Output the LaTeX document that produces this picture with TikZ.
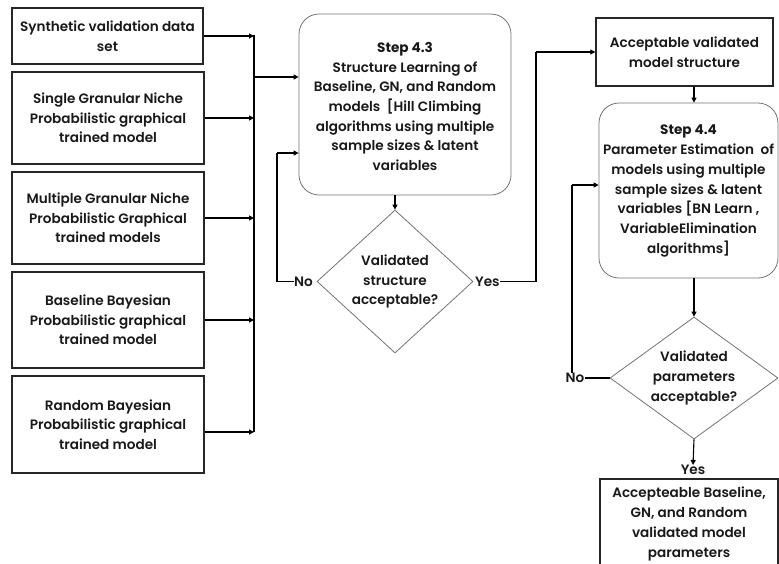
\documentclass[tikz,border=0pt]{standalone}
\usepackage{fontspec}
\setmainfont{Poppins}[UprightFont=* SemiBold, BoldFont=* Bold]
\usetikzlibrary{arrows.meta,shapes.geometric}

\tikzset{
  every node/.style={font=\fontsize{13.6}{19.7}\selectfont, inner sep=0pt, text=black!90},
  inbox/.style={draw=black!85, line width=1.4pt, rectangle, align=center},
  stepbox/.style={draw=black!55, line width=0.8pt, rectangle, rounded corners=20pt},
  decision/.style={draw=black!55, line width=0.8pt, diamond},
  plain/.style={align=center},
  link/.style={draw=black, line width=1.1pt},
  arr/.style={link, -{Triangle[length=5pt,width=5pt]}},
}

\begin{document}
\begin{tikzpicture}[x=1pt,y=-1pt]
\useasboundingbox (0,0) rectangle (779,563);

% input data and trained models
\node[inbox, minimum width=191pt, minimum height=56pt] (b1) at (107.5,36) {Synthetic validation data\\set};
\node[inbox, minimum width=192pt, minimum height=92pt] (b2) at (108,118) {Single Granular Niche\\Probabilistic graphical\\trained model};
\node[inbox, minimum width=192pt, minimum height=92pt] (b3) at (108,218) {Multiple Granular Niche\\Probabilistic Graphical\\trained models};
\node[inbox, minimum width=192pt, minimum height=96pt] (b4) at (108,320) {Baseline Bayesian\\Probabilistic graphical\\trained model};
\node[inbox, minimum width=192pt, minimum height=97pt] (b5) at (108,424.5) {Random Bayesian\\Probabilistic graphical\\trained model};

% collecting bus
\coordinate (bustop) at (254,35);
\coordinate (busbot) at (254,432);
\coordinate (busout) at (254,77);

% step 4.3
\node[stepbox, minimum width=212pt, minimum height=181pt] (s43) at (405,104.5) {};
\node[plain] (s43t) at (405,106.5) {\textbf{Step 4.3}\\Structure Learning of\\Baseline, GN, and Random\\models\ \ [Hill Climbing\\algorithms using multiple\\sample sizes \& latent\\variables};

\node[decision, minimum width=156pt, minimum height=143pt] (d1) at (395,281.5) {};
\node[plain] (d1t) at (d1.center) {Validated\\structure\\acceptable?};
\node[plain, anchor=east] (no1) at (313,281.5) {No};
\node[plain, anchor=west] (yes1) at (475,281.5) {Yes};
\coordinate (loop1) at (277,153);
\coordinate (fwd1) at (536,52);

% accepted structure and step 4.4
\node[inbox, minimum width=177pt, minimum height=68pt] (acc) at (684.5,52) {Acceptable validated\\model structure};

\node[stepbox, minimum width=179pt, minimum height=175pt] (s44) at (688.5,190.5) {};
\node[plain] (s44t) at (688.5,191) {\textbf{Step 4.4}\\Parameter Estimation\ \ of\\models using multiple\\sample sizes \& latent\\variables [BN Learn ,\\VariableElimination\\algorithms]};

\node[decision, minimum width=168pt, minimum height=122pt] (d2) at (694,378) {};
\node[plain] (d2t) at (d2.center) {Validated\\parameters\\acceptable?};
\node[plain] (no2) at (575,378) {No};
\node[plain] (yes2) at (693,470) {Yes};
\coordinate (loop2) at (572,185);

\node[inbox, minimum width=178pt, minimum height=96pt] (fin) at (689,527) {};
\node[plain] (fint) at (689,524) {Accepteable Baseline,\\GN, and Random\\validated model\\parameters};

% connectors
\foreach \b in {b1,b2,b3,b4}
  \draw[arr] (\b.east) -- (\b.east -| bustop);
\draw[arr] (b5.east |- busbot) -- (busbot);
\draw[link] (bustop) -- (busbot);
\draw[arr] (busout) -- (busout -| s43.west);

\draw[arr] (s43.south -| d1) -- (d1.north);
\draw[link] (no1.west) -- (no1.west -| loop1) -- (loop1);
\draw[arr] (loop1) -- (loop1 -| s43.west);
\draw[link] (yes1.east) -- (yes1.east -| fwd1) -- (fwd1);
\draw[arr] (fwd1) -- (acc.west);

\draw[arr] (acc.south -| d2) -- (s44.north -| d2);
\draw[arr] (s44.south -| d2) -- (d2.north);
\draw[link] (no2.east) -- (d2.west);
\draw[link] (no2.north -| loop2) -- (loop2);
\draw[arr] (loop2) -- (loop2 -| s44.west);
\draw[arr] (d2.south) -- (yes2.north);
\end{tikzpicture}
\end{document}
